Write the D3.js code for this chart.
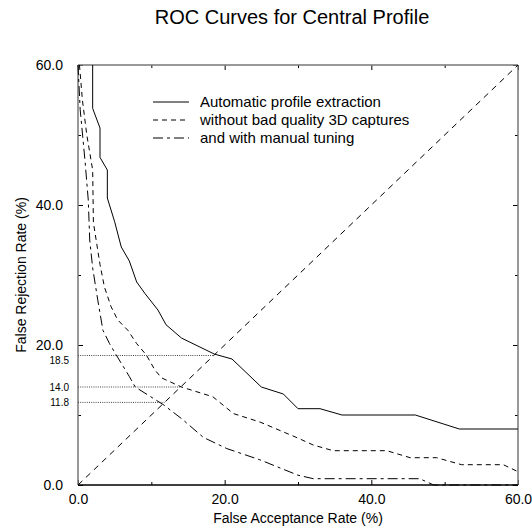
<!DOCTYPE html>
<html>
<head>
<meta charset="utf-8">
<script src="https://cdn.jsdelivr.net/npm/d3@7"></script>
<style>
  body { margin: 0; background: #fff; }
  text { font-family: "Liberation Sans", Arial, Helvetica, sans-serif; fill: #000; }
</style>
</head>
<body>
<div id="chart"></div>
<script>
// curve values (FAR %, FRR %)
const autoFar = [2.0, 2.0, 3.0, 3.0, 4.0, 4.0, 5.0, 5.9, 7.0, 8.0, 9.1, 10.9, 12.0, 14.1, 18.6, 21.0, 25.0, 28.0, 30.0, 33.0, 36.0, 46.0, 52.0, 60.0];
const autoFrr = [60.0, 53.8, 51.0, 46.8, 45.0, 41.0, 37.6, 34.0, 32.0, 29.0, 27.4, 25.0, 22.9, 21.0, 18.7, 18.0, 14.0, 13.0, 10.9, 10.9, 10.0, 10.0, 8.0, 8.0];

const noBadFar = [0.2, 0.6, 1.2, 2.0, 2.1, 3.0, 3.6, 4.5, 5.4, 6.8, 8.0, 9.3, 10.5, 11.4, 14.1, 18.4, 21.2, 24.8, 30.0, 32.1, 34.8, 42.1, 45.3, 48.9, 52.3, 58.0, 60.0];
const noBadFrr = [60.0, 55.0, 50.0, 45.0, 37.5, 31.5, 28.3, 25.5, 23.6, 22.1, 20.2, 18.6, 16.4, 15.3, 14.0, 12.6, 10.2, 9.0, 6.7, 5.7, 4.9, 4.9, 3.9, 3.9, 2.9, 2.9, 1.9];

const manualFar = [0.0, 0.3, 0.95, 1.4, 1.6, 2.0, 2.7, 3.4, 4.3, 5.2, 7.0, 7.8, 11.6, 14.1, 17.1, 20.3, 24.8, 30.0, 32.1, 46.6, 48.5, 60.0];
const manualFrr = [60.0, 53.6, 46.4, 40.7, 35.0, 31.0, 26.4, 22.1, 20.2, 18.6, 15.5, 14.0, 11.5, 9.5, 6.8, 5.2, 3.6, 1.4, 0.9, 0.9, 0.0, 0.0];

const seriesNames = ["Automatic profile extraction", "without bad quality 3D captures", "and with manual tuning"];
const equalErrors = [18.5, 14.0, 11.8];

const majorTicks = [0, 20, 40, 60];
const minorTicks = [10, 30, 50];

const width = 532, height = 529;
const plotLeft = 78, plotRight = 518, plotTop = 65, plotBottom = 485;

let svg = d3.select("#chart").append("svg")
  .attr("width", width)
  .attr("height", height);

let x = d3.scaleLinear().domain([0, 60]).range([plotLeft, plotRight]);
let y = d3.scaleLinear().domain([0, 60]).range([plotBottom, plotTop]);
let fmt = d3.format(".1f");

// title
svg.append("text")
  .attr("x", 292)
  .attr("y", 24)
  .attr("text-anchor", "middle")
  .style("font-size", "20px")
  .text("ROC Curves for Central Profile");

// ticks on all four sides, pointing inward
svg.append("g").attr("transform", `translate(0,${plotBottom})`)
  .call(d3.axisBottom(x).tickValues(majorTicks).tickSize(-5).tickPadding(9).tickFormat(fmt));
svg.append("g").attr("transform", `translate(0,${plotBottom})`)
  .call(d3.axisBottom(x).tickValues(minorTicks).tickSize(-3).tickFormat(""));
svg.append("g").attr("transform", `translate(${plotLeft},0)`)
  .call(d3.axisLeft(y).tickValues(majorTicks).tickSize(-5).tickPadding(15).tickFormat(fmt));
svg.append("g").attr("transform", `translate(${plotLeft},0)`)
  .call(d3.axisLeft(y).tickValues(minorTicks).tickSize(-3).tickFormat(""));
svg.append("g").attr("transform", `translate(0,${plotTop})`)
  .call(d3.axisTop(x).tickValues(majorTicks).tickSize(-5).tickFormat(""));
svg.append("g").attr("transform", `translate(0,${plotTop})`)
  .call(d3.axisTop(x).tickValues(minorTicks).tickSize(-3).tickFormat(""));
svg.append("g").attr("transform", `translate(${plotRight},0)`)
  .call(d3.axisRight(y).tickValues(majorTicks).tickSize(-5).tickFormat(""));
svg.append("g").attr("transform", `translate(${plotRight},0)`)
  .call(d3.axisRight(y).tickValues(minorTicks).tickSize(-3).tickFormat(""));

svg.selectAll(".domain").remove();
svg.selectAll(".tick line").attr("stroke", "#000");
svg.selectAll(".tick text").style("font-size", "14px").attr("fill", "#000");

// frame
svg.append("line").attr("x1", plotLeft).attr("y1", plotTop).attr("x2", plotRight).attr("y2", plotTop)
  .attr("stroke", "#777").attr("stroke-width", 1.5);
svg.append("line").attr("x1", plotLeft).attr("y1", plotTop).attr("x2", plotLeft).attr("y2", plotBottom)
  .attr("stroke", "#777").attr("stroke-width", 1.5);
svg.append("line").attr("x1", plotRight).attr("y1", plotTop).attr("x2", plotRight).attr("y2", plotBottom)
  .attr("stroke", "#777").attr("stroke-width", 1.5);
svg.append("line").attr("x1", plotLeft).attr("y1", plotBottom).attr("x2", plotRight).attr("y2", plotBottom)
  .attr("stroke", "#000").attr("stroke-width", 1.5);

// axis labels
svg.append("text")
  .attr("x", (plotLeft + plotRight) / 2)
  .attr("y", 523)
  .attr("text-anchor", "middle")
  .style("font-size", "14px")
  .text("False Acceptance Rate (%)");

svg.append("text")
  .attr("transform", `translate(26,${(plotTop + plotBottom) / 2}) rotate(-90)`)
  .attr("text-anchor", "middle")
  .style("font-size", "14px")
  .text("False Rejection Rate (%)");

// equal error rate markers (18.5 label nudged down, clear of 20.0)
equalErrors.forEach((e, i) => {
  svg.append("line")
    .attr("x1", x(0)).attr("y1", y(e))
    .attr("x2", x(e)).attr("y2", y(e))
    .attr("stroke", "#444")
    .attr("stroke-dasharray", "1,1.2");
  svg.append("text")
    .attr("x", 69)
    .attr("y", y(e) + (i == 0 ? 4.5 : 0))
    .attr("dy", "0.35em")
    .attr("text-anchor", "end")
    .style("font-size", "10px")
    .text(fmt(e));
});

// diagonal FAR = FRR
svg.append("line")
  .attr("x1", x(0)).attr("y1", y(0))
  .attr("x2", x(60)).attr("y2", y(60))
  .attr("stroke", "#000")
  .attr("stroke-dasharray", "6,5");

let line = d3.line()
  .x(d => x(d[0]))
  .y(d => y(d[1]));

let dashes = [null, "5,4", "10,4,3,4"];
let curves = [
  d3.zip(autoFar, autoFrr),
  d3.zip(noBadFar, noBadFrr),
  d3.zip(manualFar, manualFrr)
];

curves.forEach((c, i) => {
  svg.append("path")
    .datum(c)
    .attr("d", line)
    .attr("fill", "none")
    .attr("stroke", "#000")
    .attr("stroke-width", 1)
    .attr("stroke-dasharray", dashes[i]);
});

// legend
seriesNames.forEach((name, i) => {
  let ly = 102 + i * 18;
  svg.append("line")
    .attr("x1", 153).attr("y1", ly)
    .attr("x2", 189).attr("y2", ly)
    .attr("stroke", "#000")
    .attr("stroke-dasharray", dashes[i]);
  svg.append("text")
    .attr("x", 200)
    .attr("y", ly)
    .attr("dy", "0.35em")
    .style("font-size", "15px")
    .text(name);
});
</script>
</body>
</html>
